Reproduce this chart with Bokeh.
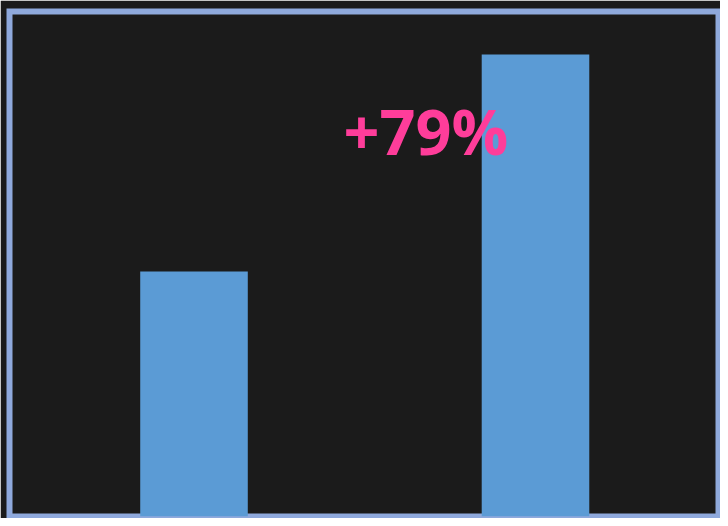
from bokeh.plotting import figure
from bokeh.models import Range1d, ColumnDataSource, Label
from bokeh.embed import file_html
from bokeh.resources import INLINE

# Data
categories = ["Before", "After"]
values = [100, 179]
change_pct = round((values[1] / values[0] - 1) * 100)
label_text = f"+{change_pct}%"

positions = list(range(len(categories)))

p = figure(width=720, height=518, output_backend="svg", toolbar_location=None,
           x_range=Range1d(-0.5403, 1.5359), y_range=Range1d(10.8, 194.65),
           min_border_left=9, min_border_top=11, min_border_right=2, min_border_bottom=2)
p.axis.visible = False
p.grid.visible = False
p.background_fill_color = "#1b1b1b"
p.border_fill_color = "#1b1b1b"
p.outline_line_color = "#8fa9dc"
p.outline_line_width = 6
p.outline_line_join = "miter"

src = ColumnDataSource(dict(x=positions, top=values, cat=categories))
p.vbar(x="x", top="top", bottom=0, width=0.315, source=src,
       fill_color="#5b9bd5", line_color=None)

lab = Label(x=0.679, y=151.2, text=label_text, text_align="center",
            text_baseline="alphabetic", text_font="Open Sans", text_font_style="bold",
            text_font_size="63px", text_color="#ff3d9a")
p.add_layout(lab)

html = file_html(p, INLINE)
html = html.replace("<body>", "<body style=\"background:#1b1b1b\">", 1)
open("out.html", "w").write(html)
